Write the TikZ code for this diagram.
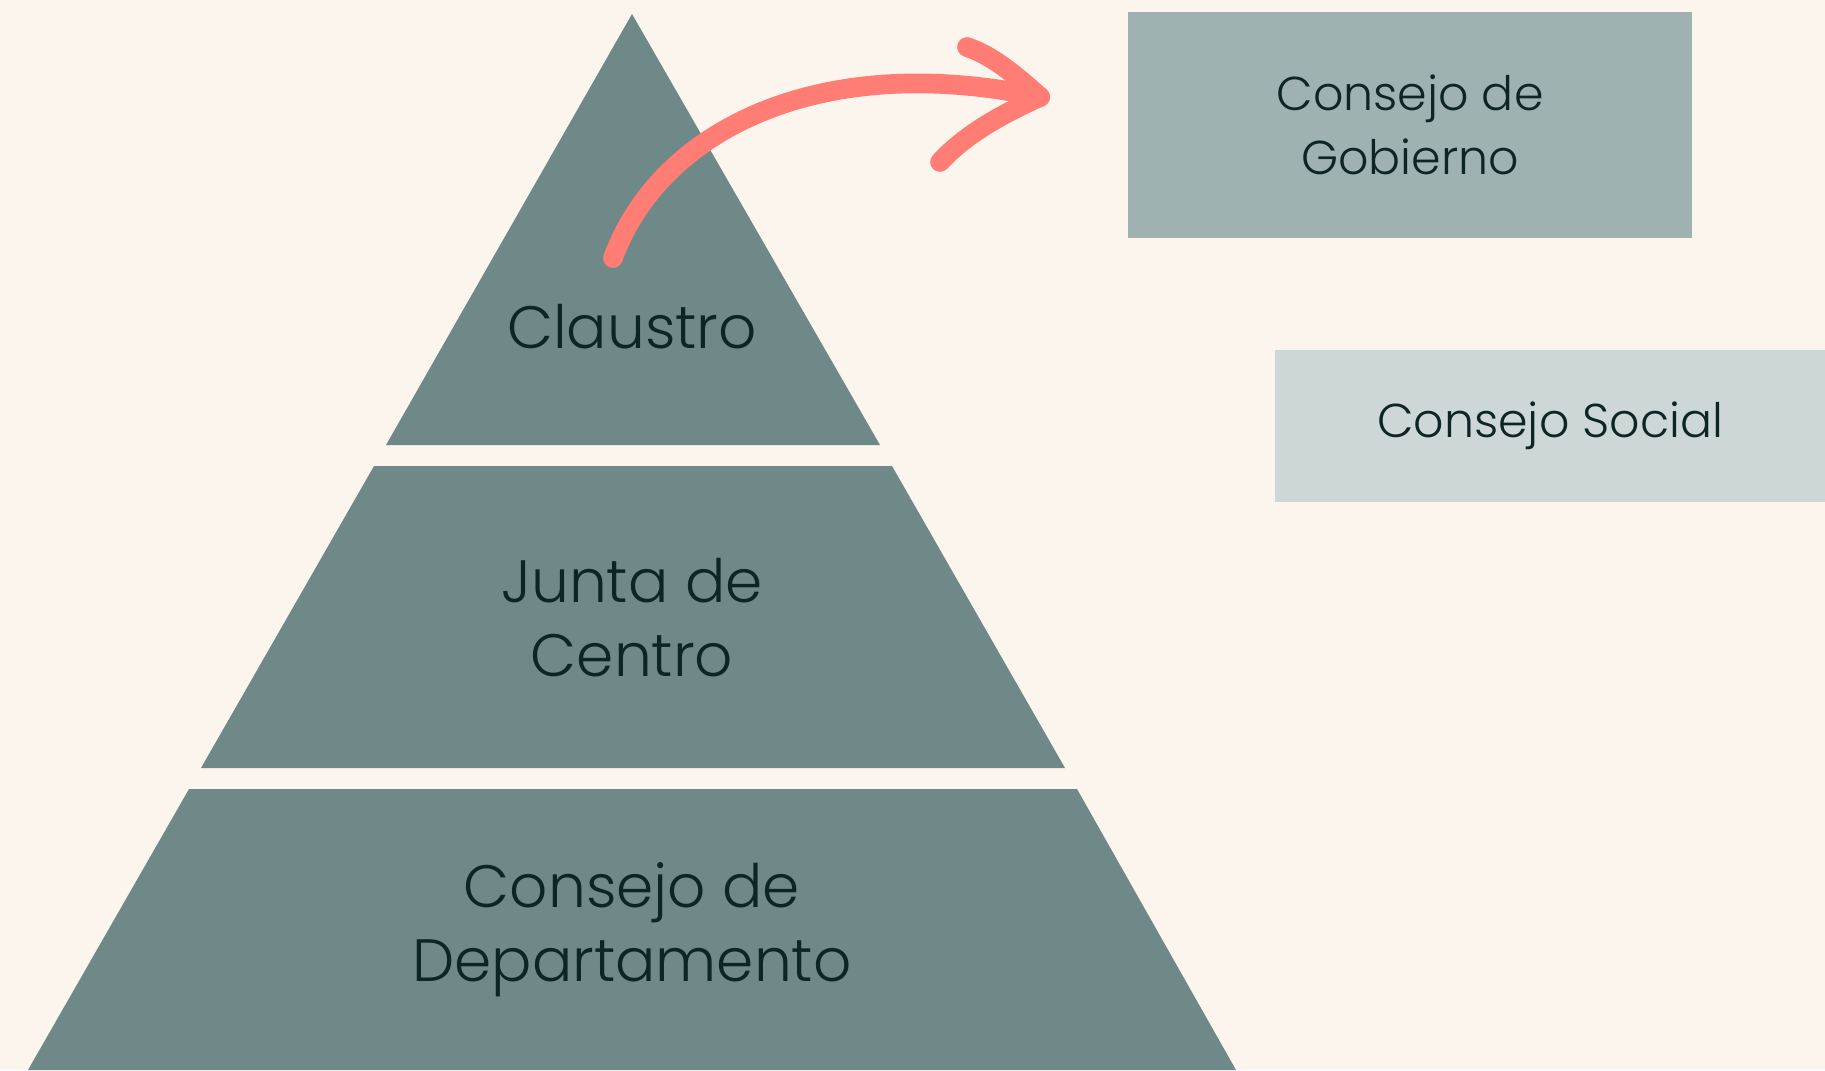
\documentclass[tikz,border=0pt]{standalone}
\usepackage{fontspec}
\setmainfont{Poppins Light}
\usetikzlibrary{positioning}

\definecolor{cream}{HTML}{FBF5EE}
\definecolor{slate}{HTML}{6E8987}
\definecolor{sage}{HTML}{9FB1B0}
\definecolor{mist}{HTML}{CDD7D8}
\definecolor{ink}{HTML}{0E2525}
\definecolor{salmon}{HTML}{FF7D75}

\tikzset{
  level/.style={text=ink, align=center, inner sep=0pt,
    font=\fontsize{17}{21}\selectfont},
  organ/.style={fill=#1, text=ink, align=center, inner sep=0pt,
    font=\fontsize{13.5}{18.2}\selectfont},
  stroke/.style={draw=salmon, line width=5.6pt, line cap=round, line join=round},
}

\begin{document}
\begin{tikzpicture}[x=0.01cm, y=-0.01cm]
    \useasboundingbox[fill=cream] (0,0) rectangle (1825,1070);
        % pyramid
        \fill[slate] (632,14) -- (880,445) -- (386,445) -- cycle;
        \fill[slate] (374,466) -- (892,466) -- (1065,768) -- (201,768) -- cycle;
        \fill[slate] (189,789) -- (1077,789) -- (1236,1070) -- (28,1070) -- cycle;
        \node[level] (claustro) at (632,327) {Claustro};
        \node[level] (junta) at (632,618) {Junta de\\Centro};
        \node[level] (departamento) at (632,930) {Consejo de\\Departamento};
        % right boxes
        \node[organ=sage, minimum width=5.64cm, minimum height=2.25cm] (gobierno) at (1410,125) {Consejo de\\Gobierno};
        \node[organ=mist, minimum width=5.5cm, minimum height=1.52cm] (social) at (1550,426) {Consejo Social};
        % arrow
        \coordinate (tail) at (613,258);
        \coordinate (tip) at (1040,97);
        \draw[stroke] (tail) .. controls (660,130) and (820,50) .. (tip);
        \draw[stroke] (tip) .. controls (1010,70) and (990,55) .. (967,47);
        \draw[stroke] (tip) .. controls (1000,115) and (965,135) .. (940,162);
\end{tikzpicture}
\end{document}
